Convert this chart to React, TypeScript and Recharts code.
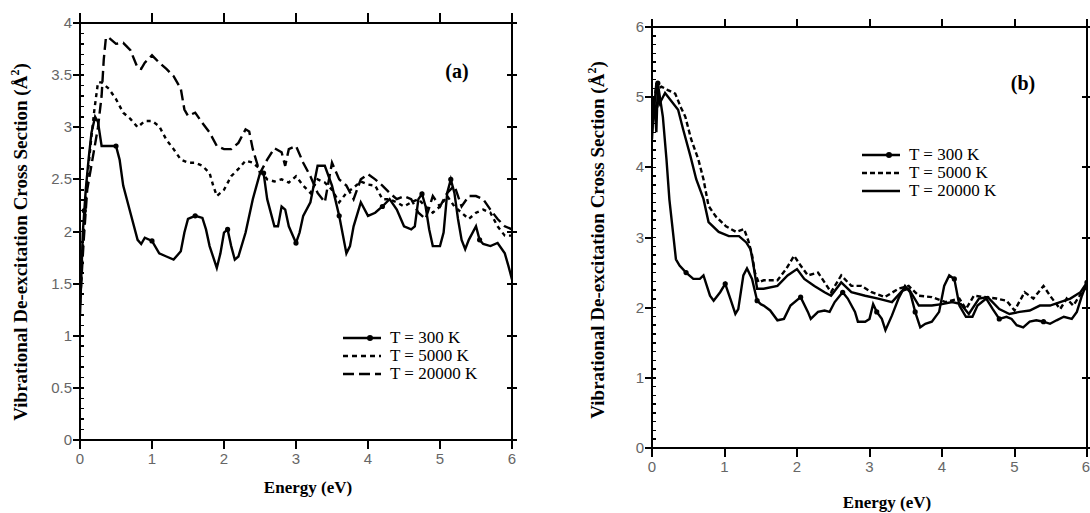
import React from "react";
import { LineChart, Line, XAxis, YAxis } from "recharts";

// (a) panel: energy (eV), cross section (Å²)
const a300: [number, number][] = [
  [0, 1.2], [0.02, 1.6], [0.04, 2.0], [0.06, 2.2], [0.08, 2.4], [0.12, 2.7], [0.16, 2.95], [0.21, 3.1],
  [0.25, 3.05], [0.3, 2.82], [0.5, 2.82], [0.55, 2.69], [0.6, 2.44], [0.7, 2.18], [0.8, 1.92], [0.85, 1.88],
  [0.9, 1.94], [1.0, 1.91], [1.1, 1.79], [1.2, 1.76], [1.3, 1.73], [1.4, 1.81], [1.45, 1.99], [1.5, 2.12],
  [1.6, 2.15], [1.7, 2.13], [1.75, 2.02], [1.8, 1.86], [1.9, 1.65], [1.95, 1.79], [2.0, 1.99], [2.05, 2.02],
  [2.1, 1.86], [2.15, 1.73], [2.2, 1.76], [2.3, 1.99], [2.4, 2.31], [2.5, 2.56], [2.55, 2.56], [2.6, 2.31],
  [2.7, 2.05], [2.75, 2.05], [2.8, 2.24], [2.85, 2.21], [2.9, 2.05], [3.0, 1.89], [3.05, 1.99], [3.1, 2.15],
  [3.2, 2.28], [3.3, 2.63], [3.4, 2.63], [3.5, 2.44], [3.6, 2.15], [3.7, 1.79], [3.75, 1.86], [3.8, 2.05],
  [3.9, 2.28], [4.0, 2.15], [4.1, 2.18], [4.2, 2.24], [4.3, 2.31], [4.4, 2.21], [4.5, 2.05], [4.6, 2.02],
  [4.65, 2.05], [4.7, 2.31], [4.75, 2.36], [4.8, 2.24], [4.85, 2.02], [4.9, 1.86], [5.0, 1.86], [5.05, 1.99],
  [5.1, 2.37], [5.15, 2.5], [5.2, 2.37], [5.25, 2.12], [5.3, 1.92], [5.35, 1.83], [5.4, 1.92], [5.5, 2.05],
  [5.55, 1.92], [5.6, 1.88], [5.7, 1.86], [5.8, 1.89], [5.9, 1.79], [5.95, 1.67], [6.0, 1.54],
];

const a5000: [number, number][] = [
  [0, 1.3], [0.05, 2.0], [0.1, 2.5], [0.15, 2.85], [0.2, 3.17], [0.25, 3.43], [0.3, 3.43], [0.4, 3.37],
  [0.5, 3.27], [0.6, 3.14], [0.7, 3.08], [0.8, 3.0], [0.9, 3.06], [1.0, 3.06], [1.1, 3.01], [1.2, 2.88],
  [1.3, 2.79], [1.4, 2.69], [1.5, 2.66], [1.6, 2.66], [1.7, 2.63], [1.8, 2.56], [1.85, 2.44], [1.9, 2.34],
  [2.0, 2.4], [2.1, 2.53], [2.2, 2.6], [2.3, 2.68], [2.4, 2.66], [2.5, 2.6], [2.6, 2.5], [2.7, 2.48],
  [2.8, 2.5], [2.9, 2.47], [3.0, 2.53], [3.1, 2.44], [3.2, 2.37], [3.3, 2.5], [3.4, 2.47], [3.5, 2.4],
  [3.6, 2.28], [3.7, 2.37], [3.8, 2.42], [3.9, 2.48], [4.0, 2.45], [4.1, 2.44], [4.2, 2.31], [4.3, 2.31],
  [4.4, 2.28], [4.5, 2.24], [4.6, 2.28], [4.7, 2.31], [4.8, 2.24], [4.9, 2.18], [5.0, 2.24], [5.1, 2.34],
  [5.2, 2.24], [5.3, 2.18], [5.4, 2.12], [5.5, 2.18], [5.6, 2.21], [5.7, 2.18], [5.8, 2.05], [5.9, 1.96],
  [6.0, 1.96],
];

const a20000: [number, number][] = [
  [0, 1.3], [0.05, 1.9], [0.1, 2.4], [0.15, 2.6], [0.2, 2.8], [0.25, 3.0], [0.3, 3.3], [0.33, 3.65],
  [0.36, 3.86], [0.4, 3.86], [0.5, 3.8], [0.6, 3.81], [0.7, 3.74], [0.8, 3.57], [0.85, 3.56], [0.9, 3.62],
  [1.0, 3.69], [1.1, 3.62], [1.2, 3.56], [1.3, 3.49], [1.4, 3.37], [1.45, 3.17], [1.5, 3.11], [1.6, 3.14],
  [1.7, 3.04], [1.8, 2.95], [1.9, 2.82], [2.0, 2.79], [2.1, 2.79], [2.2, 2.85], [2.3, 2.98], [2.35, 2.96],
  [2.4, 2.79], [2.5, 2.56], [2.6, 2.69], [2.7, 2.8], [2.8, 2.76], [2.85, 2.63], [2.9, 2.79], [3.0, 2.82],
  [3.1, 2.66], [3.2, 2.53], [3.3, 2.37], [3.4, 2.28], [3.5, 2.66], [3.6, 2.5], [3.7, 2.44], [3.8, 2.31],
  [3.9, 2.5], [4.0, 2.55], [4.1, 2.5], [4.2, 2.44], [4.3, 2.37], [4.4, 2.31], [4.5, 2.34], [4.6, 2.31],
  [4.7, 2.18], [4.8, 2.12], [4.9, 2.34], [5.0, 2.24], [5.1, 2.37], [5.2, 2.44], [5.3, 2.24], [5.4, 2.34],
  [5.5, 2.34], [5.6, 2.31], [5.7, 2.21], [5.8, 2.12], [5.9, 2.05], [6.0, 2.02],
];

// (b) panel
const b300: [number, number][] = [
  [0, 4.4], [0.03, 5.0], [0.06, 4.5], [0.08, 5.2], [0.15, 4.72], [0.2, 4.11], [0.24, 3.54], [0.29, 3.07],
  [0.33, 2.69], [0.38, 2.6], [0.47, 2.5], [0.57, 2.41], [0.66, 2.41], [0.71, 2.46], [0.8, 2.17], [0.85, 2.1],
  [0.94, 2.22], [1.01, 2.34], [1.08, 2.13], [1.15, 1.91], [1.19, 1.98], [1.26, 2.46], [1.31, 2.56], [1.38, 2.41],
  [1.45, 2.1], [1.5, 2.05], [1.54, 2.03], [1.63, 1.96], [1.73, 1.82], [1.82, 1.84], [1.91, 2.03], [2.05, 2.15],
  [2.15, 1.94], [2.19, 1.84], [2.29, 1.94], [2.38, 1.96], [2.45, 1.94], [2.52, 2.08], [2.63, 2.22], [2.7, 2.13],
  [2.8, 1.94], [2.84, 1.8], [2.94, 1.8], [3.0, 1.84], [3.05, 2.05], [3.1, 1.94], [3.17, 1.84], [3.22, 1.68],
  [3.31, 1.89], [3.4, 2.13], [3.49, 2.31], [3.56, 2.22], [3.63, 1.94], [3.7, 1.72], [3.77, 1.77], [3.86, 1.8],
  [3.96, 1.94], [4.03, 2.31], [4.1, 2.46], [4.17, 2.41], [4.24, 2.03], [4.33, 1.87], [4.42, 1.87], [4.49, 2.03],
  [4.61, 2.13], [4.7, 1.98], [4.79, 1.84], [4.89, 1.87], [4.96, 1.84], [5.03, 1.75], [5.12, 1.72], [5.21, 1.8],
  [5.3, 1.82], [5.4, 1.8], [5.49, 1.77], [5.58, 1.82], [5.68, 1.87], [5.79, 1.84], [5.86, 1.94], [5.93, 2.17],
  [6.0, 2.36],
];

const b5000: [number, number][] = [
  [0, 4.6], [0.05, 5.1], [0.13, 5.15], [0.22, 5.1], [0.32, 5.05], [0.4, 4.85], [0.46, 4.72], [0.54, 4.4],
  [0.64, 4.11], [0.71, 3.83], [0.78, 3.45], [0.88, 3.3], [1.02, 3.16], [1.16, 3.08], [1.27, 3.12], [1.33, 2.95],
  [1.38, 2.75], [1.42, 2.5], [1.47, 2.36], [1.54, 2.39], [1.73, 2.39], [1.85, 2.55], [1.96, 2.74], [2.05, 2.6],
  [2.15, 2.46], [2.29, 2.5], [2.38, 2.36], [2.47, 2.22], [2.61, 2.46], [2.75, 2.31], [2.89, 2.31], [3.03, 2.22],
  [3.21, 2.15], [3.4, 2.27], [3.54, 2.31], [3.68, 2.17], [3.86, 2.15], [4.05, 2.08], [4.24, 2.13], [4.33, 1.98],
  [4.44, 2.17], [4.61, 2.15], [4.75, 2.13], [4.89, 2.1], [5.0, 1.96], [5.14, 2.22], [5.26, 2.13], [5.4, 2.31],
  [5.49, 2.17], [5.63, 1.98], [5.72, 2.13], [5.81, 2.03], [5.93, 2.22], [6.0, 2.3],
];

const b20000: [number, number][] = [
  [0, 4.5], [0.06, 5.2], [0.1, 4.9], [0.18, 5.06], [0.36, 4.82], [0.43, 4.54], [0.53, 4.16], [0.61, 3.83],
  [0.71, 3.55], [0.78, 3.22], [0.92, 3.08], [1.06, 3.02], [1.2, 3.02], [1.3, 2.93], [1.36, 2.83], [1.4, 2.6],
  [1.45, 2.27], [1.54, 2.27], [1.73, 2.31], [1.87, 2.46], [2.0, 2.55], [2.1, 2.41], [2.24, 2.31], [2.38, 2.22],
  [2.47, 2.17], [2.61, 2.36], [2.75, 2.22], [2.94, 2.17], [3.12, 2.13], [3.31, 2.08], [3.45, 2.24], [3.54, 2.27],
  [3.68, 2.03], [3.86, 2.03], [4.0, 2.05], [4.14, 2.08], [4.26, 2.05], [4.37, 1.91], [4.51, 2.13], [4.63, 2.15],
  [4.79, 1.98], [4.93, 1.91], [5.07, 1.94], [5.21, 1.96], [5.35, 2.03], [5.49, 2.03], [5.63, 2.08], [5.77, 2.13],
  [5.91, 2.22], [6.0, 2.36],
];

const xTicks = [0, 1, 2, 3, 4, 5, 6];
const yTicksA = [0, 0.5, 1, 1.5, 2, 2.5, 3, 3.5, 4];
const yTicksB = [0, 1, 2, 3, 4, 5, 6];
const legendLabels = ["T = 300 K", "T = 5000 K", "T = 20000 K"];
const yLabel = "Vibrational De-excitation Cross Section (Å";

const toPts = (arr: [number, number][]) => arr.map(([e, v]) => ({ e, v }));
const range = (max: number, step: number) => {
  const out: number[] = [];
  for (let i = 0; i * step <= max + 1e-9; i++) out.push(+(i * step).toFixed(3));
  return out;
};

const serif = "'Liberation Serif', 'Times New Roman', serif";
const sans = "'Liberation Sans', Arial, sans-serif";

const bottomLabel = (p: any) => (
  <text key={`bl${p.index}`} x={p.x} y={p.y + 24} textAnchor="middle" fill="#666" fontSize={15} fontFamily={sans}>
    {p.payload.value}
  </text>
);
const leftLabel = (p: any) => (
  <text key={`ll${p.index}`} x={p.x - 8} y={p.y + 5} textAnchor="end" fill="#666" fontSize={15} fontFamily={sans}>
    {p.payload.value}
  </text>
);

const markerDot = (p: any) =>
  p.index % 7 === 3 ? (
    <circle key={`m${p.index}`} cx={p.cx} cy={p.cy} r={2.6} fill="#000" />
  ) : (
    <g key={`m${p.index}`} />
  );

type Box = { left: number; top: number; width: number; height: number };

// plot frame and tick marks, laid over the chart's plot box
function Frame({ box, yMax, yTicks, minorStep, topLen }: { box: Box; yMax: number; yTicks: number[]; minorStep: number; topLen: number }) {
  const bar = (k: string, l: number, t: number, w: number, h: number) => (
    <div key={k} style={{ position: "absolute", left: l, top: t, width: w, height: h, background: "#000" }} />
  );
  const px = (e: number) => box.left + (e / 6) * box.width;
  const py = (v: number) => box.top + box.height - (v / yMax) * box.height;
  const r = box.left + box.width;
  const b = box.top + box.height;
  return (
    <>
      <div
        style={{
          position: "absolute",
          left: box.left - 1,
          top: box.top - 1,
          width: box.width - 2,
          height: box.height - 2,
          border: "2px solid #000",
        }}
      />
      {xTicks.map((e) => bar(`xb${e}`, px(e) - 1, b, 2, 9))}
      {xTicks.map((e) => bar(`xt${e}`, px(e) - 1, box.top - topLen, 2, topLen))}
      {yTicks.map((v) => bar(`yl${v}`, box.left - 7, py(v) - 1, 7, 2))}
      {yTicks.map((v) => bar(`yr${v}`, r - 5, py(v) - 1, 10, 2))}
      {range(yMax, minorStep).map((v) => bar(`ym${v}`, box.left, py(v) - 0.75, 4, 1.5))}
    </>
  );
}

type LegendItem = { label: string; dash?: string; marker?: boolean };

function LegendBox({ left, top, items, rowH }: { left: number; top: number; items: LegendItem[]; rowH: number }) {
  return (
    <div style={{ position: "absolute", left, top, fontFamily: serif, fontSize: 17, lineHeight: `${rowH}px` }}>
      {items.map((it, i) => (
        <div key={i} style={{ display: "flex", alignItems: "center", height: rowH }}>
          <svg width={40} height={rowH} style={{ marginRight: 8 }}>
            <line x1={1} x2={39} y1={rowH / 2} y2={rowH / 2} stroke="#000" strokeWidth={2.6} strokeDasharray={it.dash} />
            {it.marker && <circle cx={28} cy={rowH / 2} r={3} fill="#000" />}
          </svg>
          <span>{it.label}</span>
        </div>
      ))}
    </div>
  );
}

function YLabel({ cx, cy }: { cx: number; cy: number }) {
  return (
    <div
      style={{
        position: "absolute",
        left: cx,
        top: cy,
        transform: "translate(-50%, -50%) rotate(-90deg)",
        whiteSpace: "nowrap",
        fontFamily: serif,
        fontWeight: "bold",
        fontSize: 19,
      }}
    >
      {yLabel}
      <sup style={{ fontSize: 12 }}>2</sup>)
    </div>
  );
}

function TextAt({ x, y, text, size }: { x: number; y: number; text: string; size: number }) {
  return (
    <div
      style={{
        position: "absolute",
        left: x,
        top: y,
        transform: "translate(-50%, -50%)",
        whiteSpace: "nowrap",
        fontFamily: serif,
        fontWeight: "bold",
        fontSize: size,
      }}
    >
      {text}
    </div>
  );
}

function Panel({
  left,
  width,
  margin,
  yMax,
  yTicks,
  series,
}: {
  left: number;
  width: number;
  margin: { top: number; right: number; bottom: number; left: number };
  yMax: number;
  yTicks: number[];
  series: { data: [number, number][]; dash?: string; marker?: boolean }[];
}) {
  const yAxisW = 40;
  return (
    <div style={{ position: "absolute", left, top: 0 }}>
      <LineChart
        width={width}
        height={513}
        margin={{ top: margin.top, right: margin.right, bottom: margin.bottom - 30, left: margin.left - yAxisW }}
      >
        <XAxis
          dataKey="e"
          type="number"
          domain={[0, 6]}
          ticks={xTicks}
          allowDataOverflow
          height={30}
          axisLine={false}
          tickLine={false}
          tickSize={0}
          tickMargin={0}
          tick={bottomLabel}
        />
        <YAxis
          type="number"
          domain={[0, yMax]}
          ticks={yTicks}
          allowDataOverflow
          width={yAxisW}
          axisLine={false}
          tickLine={false}
          tickSize={0}
          tickMargin={0}
          tick={leftLabel}
        />
        {series.map((s, i) => (
          <Line
            key={i}
            data={toPts(s.data)}
            dataKey="v"
            type="linear"
            stroke="#000"
            strokeWidth={2.4}
            strokeDasharray={s.dash}
            dot={s.marker ? markerDot : false}
            activeDot={false}
            isAnimationActive={false}
          />
        ))}
      </LineChart>
    </div>
  );
}

const boxA: Box = { left: 80, top: 23, width: 432, height: 417 };
const boxB: Box = { left: 652, top: 27, width: 435, height: 421 };

export default function App() {
  return (
    <div style={{ position: "absolute", left: 0, top: 0, width: 1090, height: 513, background: "#fff", overflow: "hidden" }}>
      <Panel
        left={0}
        width={560}
        margin={{ top: 23, right: 48, bottom: 73, left: 80 }}
        yMax={4}
        yTicks={yTicksA}
        series={[
          { data: a300, marker: true },
          { data: a5000, dash: "4 4" },
          { data: a20000, dash: "11 5" },
        ]}
      />
      <Panel
        left={560}
        width={530}
        margin={{ top: 27, right: 3, bottom: 65, left: 92 }}
        yMax={6}
        yTicks={yTicksB}
        series={[
          { data: b300, marker: true },
          { data: b5000, dash: "5 3" },
          { data: b20000 },
        ]}
      />
      <Frame box={boxA} yMax={4} yTicks={yTicksA} minorStep={0.1} topLen={10} />
      <Frame box={boxB} yMax={6} yTicks={yTicksB} minorStep={0.125} topLen={8} />
      <YLabel cx={20} cy={242} />
      <YLabel cx={597} cy={240} />
      <TextAt x={308} y={488} text="Energy (eV)" size={17} />
      <TextAt x={887} y={503} text="Energy (eV)" size={17} />
      <TextAt x={457} y={71} text="(a)" size={20} />
      <TextAt x={1023} y={83} text="(b)" size={20} />
      <LegendBox
        left={342}
        top={329}
        rowH={18}
        items={[
          { label: legendLabels[0], marker: true },
          { label: legendLabels[1], dash: "5 4" },
          { label: legendLabels[2], dash: "11 5" },
        ]}
      />
      <LegendBox
        left={861}
        top={146}
        rowH={18}
        items={[
          { label: legendLabels[0], marker: true },
          { label: legendLabels[1], dash: "5 3" },
          { label: legendLabels[2] },
        ]}
      />
    </div>
  );
}
